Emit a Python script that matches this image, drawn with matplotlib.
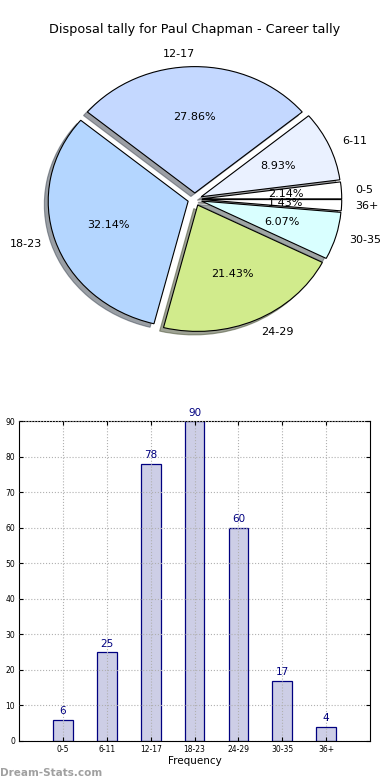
import numpy as np
import matplotlib
matplotlib.use("Agg")
import matplotlib.pyplot as plt

# disposal ranges and how many games fell in each
labels = ['0-5', '6-11', '12-17', '18-23', '24-29', '30-35', '36+']
counts = [6, 25, 78, 90, 60, 17, 4]
pie_colors = ['#ffffff', '#eaf1ff', '#c4d8ff', '#b4d6ff', '#d1eb8c', '#d9ffff', '#ffffff']
title = 'Disposal tally for Paul Chapman - Career tally'

fig = plt.figure(figsize=(3.9, 7.8), dpi=100)

# pie on top
ax1 = fig.add_axes([0.051, 0.542, 0.897, 0.405])
wedges, texts, autotexts = ax1.pie(counts, labels=labels, colors=pie_colors,
                                   explode=[0.05] * len(counts), shadow=True,
                                   autopct='%.2f%%', startangle=0,
                                   wedgeprops={'edgecolor': 'black', 'linewidth': 0.8},
                                   textprops={'fontsize': 8})
ax1.set_aspect('auto')
ax1.set_xlim(-1.25, 1.25)
ax1.set_ylim(-1.25, 1.25)
ax1.set_title(title, fontsize=9.2, pad=6)

# frequency bars underneath
ax2 = fig.add_axes([0.049, 0.05, 0.9, 0.41])
pos = np.arange(1, len(counts) + 1)
ax2.bar(pos, counts, width=0.45, color='#cdcee6', edgecolor='#000080', linewidth=0.9, zorder=1)
for x, c in zip(pos, counts):
    ax2.text(x, c + 1, str(c), ha='center', va='bottom', color='#000080', fontsize=7.5)
ax2.set_xlim(0, 8)
ax2.set_ylim(0, 90)
ax2.set_xticks(pos)
ax2.set_xticklabels(labels)
ax2.set_yticks(range(0, 91, 10))
ax2.tick_params(labelsize=5.5, direction='in', top=True, right=True, length=3, pad=3)
ax2.grid(True, linestyle=':', color='#b0b0b0', linewidth=0.8, zorder=3)
ax2.set_axisbelow(False)
ax2.set_xlabel('Frequency', fontsize=7.5, labelpad=1)

fig.text(0.0, 0.005, 'Dream-Stats.com', fontsize=7.5, color='#a0a0a0', fontweight='bold')

fig.savefig('out.png', dpi=100)
